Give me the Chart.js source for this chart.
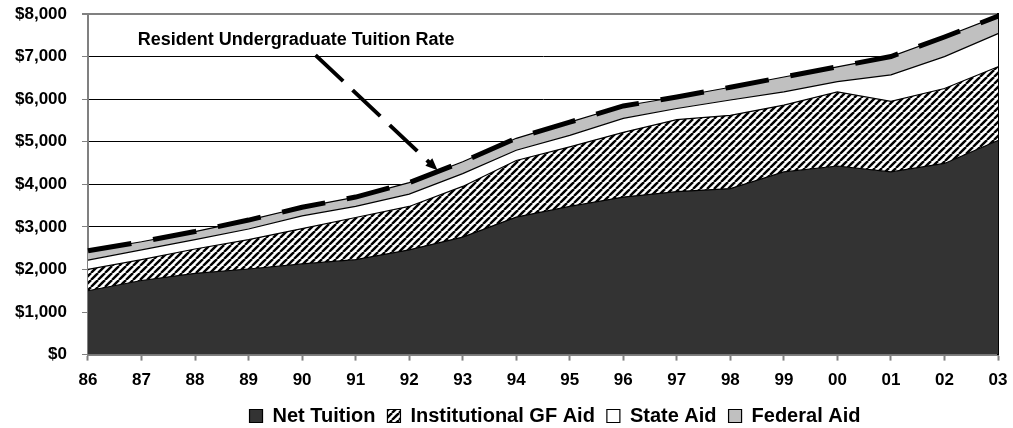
<!DOCTYPE html>
<html>
<head>
<meta charset="utf-8">
<script src="https://cdn.jsdelivr.net/npm/chart.js@4/dist/chart.umd.min.js"></script>
<style>
  html, body { margin: 0; padding: 0; background: #fff; }
  #wrap { width: 1013px; height: 428px; }
</style>
</head>
<body>
<div id="wrap"><canvas id="tuitionChart" width="1013" height="428"></canvas></div>
<script>
// Fiscal years (two-digit)
const years = ['86', '87', '88', '89', '90', '91', '92', '93', '94', '95', '96', '97', '98', '99', '00', '01', '02', '03'];

// Stacked components of the resident undergraduate tuition rate ($)
const netTuition   = [1500, 1740, 1910, 2010, 2130, 2230, 2460, 2760, 3230, 3480, 3700, 3830, 3900, 4290, 4430, 4290, 4490, 5030];
const instGFAid    = [500, 490, 570, 690, 830, 990, 1020, 1190, 1330, 1400, 1520, 1690, 1720, 1570, 1740, 1660, 1760, 1730];
const stateAid     = [220, 230, 220, 250, 300, 260, 290, 300, 240, 270, 330, 260, 360, 310, 240, 620, 750, 780];
const federalAid   = [220, 190, 190, 210, 200, 220, 270, 280, 280, 310, 290, 270, 300, 350, 350, 430, 460, 410];
const tuitionRate  = [2440, 2650, 2890, 3160, 3460, 3700, 4040, 4530, 5080, 5460, 5840, 6050, 6280, 6520, 6760, 7000, 7460, 7950];

// y axis ticks
const yTicks = [0, 1000, 2000, 3000, 4000, 5000, 6000, 7000, 8000];

// callout text and arrow, anchored in (category index, dollars)
const calloutText = 'Resident Undergraduate Tuition Rate';
const calloutTextAt = [0.93, 7390];
const arrowFrom = [4.25, 7035];
const arrowTo = [6.53, 4330];

const FONT = "Arial, 'Liberation Sans', Helvetica, sans-serif";

// diagonal hatch for the institutional aid band
function makeHatch() {
    const s = 7;
    const c = document.createElement('canvas');
    c.width = s; c.height = s;
    const g = c.getContext('2d');
    g.fillStyle = '#fff';
    g.fillRect(0, 0, s, s);
    g.strokeStyle = '#000';
    g.lineWidth = 2.4;
    for (const dx of [-s, 0, s]) {
        g.beginPath();
        g.moveTo(dx, s);
        g.lineTo(dx + s, 0);
        g.stroke();
    }
    return document.createElement('canvas').getContext('2d').createPattern(c, 'repeat');
}

const hatch = makeHatch();

// draws the label and dashed arrow pointing at the tuition rate line
const calloutPlugin = {
    id: 'callout',
    afterLayout(chart) {
        // nudge the legend row to the right
        chart.legend.left += 12;
        chart.legend.right += 12;
    },
    afterDatasetsDraw(chart) {
        const ctx = chart.ctx;
        const x = chart.scales.x, y = chart.scales.y;
        const px = p => [x.getPixelForValue(p[0]), y.getPixelForValue(p[1])];

        ctx.save();
        ctx.font = 'bold 18px ' + FONT;
        ctx.fillStyle = '#000';
        ctx.textBaseline = 'middle';
        const t = px(calloutTextAt);
        ctx.fillText(calloutText, t[0], t[1]);

        const a = px(arrowFrom), b = px(arrowTo);
        const ang = Math.atan2(b[1] - a[1], b[0] - a[0]);
        const headLen = 13;
        const shaftEnd = [b[0] - Math.cos(ang) * (headLen - 2), b[1] - Math.sin(ang) * (headLen - 2)];

        ctx.strokeStyle = '#000';
        ctx.lineWidth = 4;
        ctx.setLineDash([38, 13]);
        ctx.beginPath();
        ctx.moveTo(a[0], a[1]);
        ctx.lineTo(shaftEnd[0], shaftEnd[1]);
        ctx.stroke();
        ctx.setLineDash([]);

        ctx.beginPath();
        ctx.moveTo(b[0], b[1]);
        ctx.lineTo(b[0] - headLen * Math.cos(ang - 0.4), b[1] - headLen * Math.sin(ang - 0.4));
        ctx.lineTo(b[0] - headLen * Math.cos(ang + 0.4), b[1] - headLen * Math.sin(ang + 0.4));
        ctx.closePath();
        ctx.fill();
        ctx.restore();
    }
};

const areaBase = {
    borderColor: '#000',
    borderWidth: 1.2,
    pointRadius: 0,
    tension: 0,
    stack: 'aid'
};

const noVertPad = s => { s.paddingTop = 0; s.paddingBottom = 0; };

const ctx = document.getElementById('tuitionChart').getContext('2d');
new Chart(ctx, {
    type: 'line',
    data: {
        labels: years,
        datasets: [
            { ...areaBase, label: 'Net Tuition', data: netTuition, backgroundColor: '#333333', fill: 'origin' },
            { ...areaBase, label: 'Institutional GF Aid', data: instGFAid, backgroundColor: hatch, fill: '-1' },
            { ...areaBase, label: 'State Aid', data: stateAid, backgroundColor: '#ffffff', fill: '-1' },
            { ...areaBase, label: 'Federal Aid', data: federalAid, backgroundColor: '#c0c0c0', fill: '-1' },
            {
                label: 'Resident Undergraduate Tuition Rate',
                data: tuitionRate,
                stack: 'rate',
                order: -1,
                fill: false,
                borderColor: '#000',
                borderWidth: 5,
                borderDash: [44, 22],
                borderCapStyle: 'butt',
                pointRadius: 0,
                tension: 0
            }
        ]
    },
    options: {
        responsive: false,
        animation: false,
        devicePixelRatio: 1,
        layout: { padding: { top: 14, right: 15, left: 0, bottom: -8 } },
        plugins: {
            tooltip: { enabled: false },
            legend: {
                position: 'bottom',
                fullSize: false,
                labels: {
                    filter: item => item.datasetIndex < 4,
                    boxWidth: 13,
                    boxHeight: 13,
                    padding: 12,
                    color: '#000',
                    font: { family: FONT, size: 20, weight: 'bold' }
                }
            }
        },
        scales: {
            x: {
                offset: false,
                afterFit: s => { s.height -= 7; s.paddingRight = 0; },
                grid: { drawOnChartArea: false, drawTicks: true, tickLength: 6, tickColor: '#808080', tickWidth: 2 },
                border: { color: '#808080', width: 2 },
                ticks: { color: '#000', padding: 10, maxRotation: 0, font: { family: FONT, size: 17, weight: 'bold' } }
            },
            y: {
                stacked: true,
                min: 0,
                max: 8000,
                afterBuildTicks: axis => { axis.ticks = yTicks.map(v => ({ value: v })); },
                afterFit: noVertPad,
                grid: {
                    color: c => c.tick && c.tick.value === 8000 ? '#808080' : '#000',
                    lineWidth: c => c.tick && c.tick.value === 8000 ? 2 : 1,
                    tickLength: 6,
                    tickColor: '#808080'
                },
                border: { color: '#808080', width: 2 },
                ticks: {
                    color: '#000',
                    padding: 15,
                    font: { family: FONT, size: 17, weight: 'bold' },
                    callback: v => '$' + v.toLocaleString('en-US')
                }
            },
            yRight: {
                position: 'right',
                min: 0,
                max: 8000,
                afterFit: noVertPad,
                grid: { display: false, drawTicks: false },
                border: { color: '#000', width: 2 },
                ticks: { display: false }
            }
        }
    },
    plugins: [calloutPlugin]
});
</script>
</body>
</html>
